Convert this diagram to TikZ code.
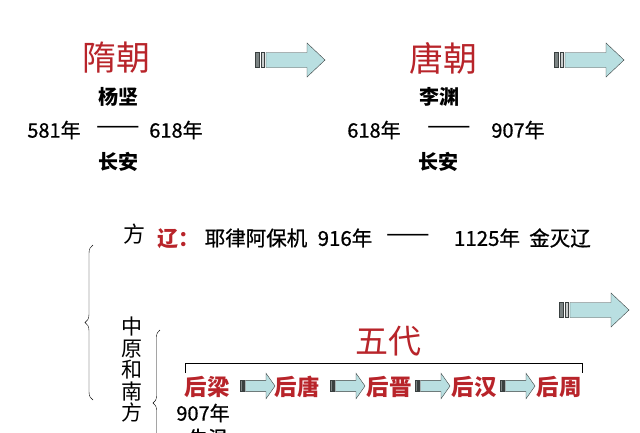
\documentclass[tikz,border=0pt]{standalone}
\usepackage{fontspec}
\setmainfont{Noto Sans CJK SC}
\newfontfamily\heavyfont{Noto Sans CJK SC}[FakeBold=0.8]
\usepackage{tikz}
\usetikzlibrary{decorations.pathreplacing}
\definecolor{dynastyred}{HTML}{B8242A}
\definecolor{arrowcyan}{HTML}{B9DFE1}
\definecolor{arrowedge}{HTML}{3A4040}
\definecolor{stripegray}{HTML}{7C8484}

\tikzset{
  title/.style={dynastyred, font=\fontsize{34}{34}\selectfont},
  info/.style={black, font=\fontsize{20}{20}\selectfont\heavyfont},
  dashtext/.style={black, font=\fontsize{26}{26}\selectfont},
  founder/.style={black, font=\fontsize{20}{20}\selectfont\bfseries},
  period/.style={dynastyred, font=\fontsize{22.5}{22.5}\selectfont\bfseries},
  blockarrow/.pic={
    \draw[arrowedge, fill=stripegray] (0,-7.5) rectangle (4,7.5);
    \draw[arrowedge, fill=stripegray!40] (6,-7.5) rectangle (9,7.5);
    \draw[arrowedge, fill=arrowcyan] (11,-7.5) -- (52,-7.5) -- (52,-17) -- (70,0)
      -- (52,17) -- (52,7.5) -- (11,7.5) -- cycle;
  }
}

\begin{document}
\begin{tikzpicture}[x=1pt, y=-1pt, inner sep=0pt]
  \useasboundingbox (0,0) rectangle (640,432);
  \clip (0,0) rectangle (640,432);
  \fill[white] (0,0) rectangle (640,432);

  \node[title] (sui) at (116,58) {隋朝};
  \node[founder] (yangjian) at (118,97) {杨坚};
  \node[info] (suistart) at (54,130) {581年};
  \node[dashtext] (suidash) at (118,130) {——};
  \node[info] (suiend) at (176,130) {618年};
  \node[founder] (suicap) at (118,162) {长安};
  \pic at (255,60) {blockarrow};

  \node[title] (tang) at (443,58) {唐朝};
  \node[founder] (liyuan) at (439,97) {李渊};
  \node[info] (tangstart) at (374,130) {618年};
  \node[dashtext] (tangdash) at (449,130) {——};
  \node[info] (tangend) at (518,130) {907年};
  \node[founder] (tangcap) at (438,162) {长安};
  \pic at (554,60) {blockarrow};

  \node[black, font=\fontsize{22}{22}\selectfont] (north) at (134,234) {方};
  \node[dynastyred, font=\fontsize{21}{21}\selectfont\bfseries] (liao) at (178,239) {辽：};
  \node[info, font=\fontsize{20.5}{20.5}\selectfont\heavyfont] (liaofounder) at (256,238) {耶律阿保机};
  \node[info, font=\fontsize{20.5}{20.5}\selectfont\heavyfont] (liaostart) at (345,238) {916年};
  \node[dashtext] (liaodash) at (408,238) {——};
  \node[info, font=\fontsize{20.5}{20.5}\selectfont\heavyfont] (liaoend) at (487,238) {1125年};
  \node[info, font=\fontsize{20.5}{20.5}\selectfont\heavyfont] (liaofall) at (560,238) {金灭辽};
  \pic at (559,310) {blockarrow};

  \node[black, align=center, font=\fontsize{21}{21.5}\selectfont] (central) at (132,370) {中\\原\\和\\南\\方};
  \draw[decorate, decoration={brace, amplitude=8pt}] (93,400) -- (93,245);
  \draw[decorate, decoration={brace, amplitude=7pt}] (160,476) -- (160,330);

  \node[dynastyred, font=\fontsize{33}{33}\selectfont] (wudai) at (388,341) {五代};
  \draw (185,373) -- (185,363) -- (582,363) -- (582,373);

  \node[period] (houliang) at (207,387) {后梁};
  \node[period] (houtang) at (297,387) {后唐};
  \node[period] (houjin) at (389,387) {后晋};
  \node[period] (houhan) at (474,387) {后汉};
  \node[period] (houzhou) at (559,387) {后周};
  \foreach \x in {240,330,415,500}
    \pic[xscale=0.5, yscale=0.75] at (\x,386) {blockarrow};

  \node[info] (liangstart) at (203,413) {907年};
  \node[info] (zhuwen) at (208,438) {朱温};
\end{tikzpicture}
\end{document}
